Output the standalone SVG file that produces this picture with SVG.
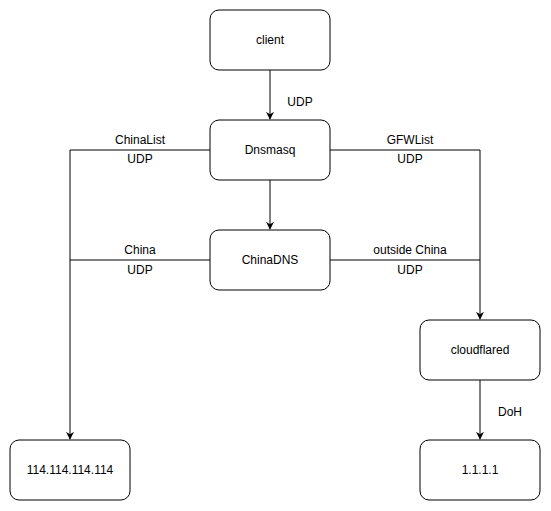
<svg xmlns="http://www.w3.org/2000/svg" width="551" height="511" viewBox="0 0 551 511">
<defs>
<style>
.node rect{fill:#fff;stroke:#000;stroke-width:1}
text{font-family:"Liberation Sans",Arial,Helvetica,sans-serif;font-size:12px;fill:#000;text-anchor:middle}
.edge{fill:none;stroke:#000;stroke-width:1}
</style>
<marker id="arr" viewBox="0 0 10 10" refX="9" refY="5" markerWidth="8" markerHeight="8" markerUnits="userSpaceOnUse" orient="auto">
<path d="M0,0 L10,5 L0,10 L3,5 Z" fill="#000"/>
</marker>
</defs>
<rect width="551" height="511" fill="#fff"/>
<g id="connectors">
<path class="edge" d="M270,70 V119" marker-end="url(#arr)"/>
<path class="edge" d="M270,180 V229" marker-end="url(#arr)"/>
<path class="edge" d="M210,150 H70 V439" marker-end="url(#arr)"/>
<path class="edge" d="M330,150 H480 V319" marker-end="url(#arr)"/>
<path class="edge" d="M210,260 H70"/>
<path class="edge" d="M330,260 H480"/>
<path class="edge" d="M480,380 V439" marker-end="url(#arr)"/>
<text x="300" y="106">UDP</text>
<text x="140" y="144">ChinaList</text>
<text x="140" y="163">UDP</text>
<text x="140" y="254">China</text>
<text x="140" y="274">UDP</text>
<text x="410" y="144">GFWList</text>
<text x="410" y="163">UDP</text>
<text x="410" y="254">outside China</text>
<text x="410" y="274">UDP</text>
<text x="510" y="416">DoH</text>
</g>
<g id="client" class="node"><rect x="210" y="10" width="120" height="60" rx="9"/><text x="270" y="44">client</text></g>
<g id="dnsmasq" class="node"><rect x="210" y="120" width="120" height="60" rx="9"/><text x="270" y="154">Dnsmasq</text></g>
<g id="chinadns" class="node"><rect x="210" y="230" width="120" height="60" rx="9"/><text x="270" y="264">ChinaDNS</text></g>
<g id="cloudflared" class="node"><rect x="420" y="320" width="120" height="60" rx="9"/><text x="480" y="354">cloudflared</text></g>
<g id="dns114" class="node"><rect x="10" y="440" width="120" height="60" rx="9"/><text x="70" y="474">114.114.114.114</text></g>
<g id="cf1111" class="node"><rect x="420" y="440" width="120" height="60" rx="9"/><text x="480" y="474">1.1.1.1</text></g>
</svg>
